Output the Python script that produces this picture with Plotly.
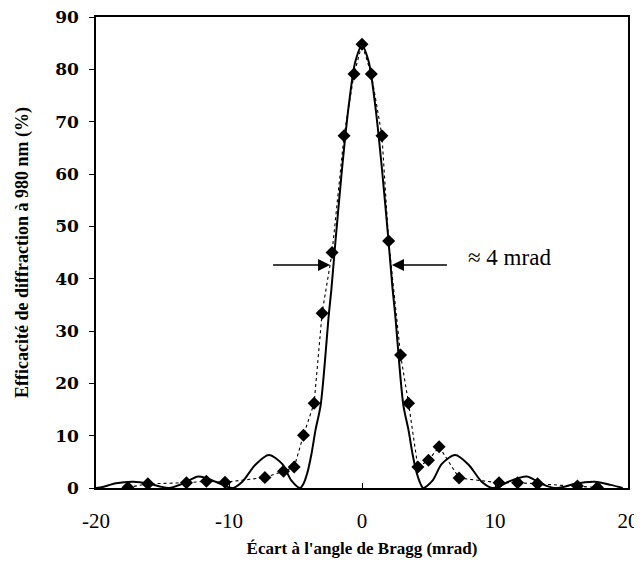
import plotly.graph_objects as go

# =============================================================================
# DATOS
# =============================================================================

# Courbe théorique (trait plein)
x_theorie = [-20, -19.5, -18.5, -17.2, -16, -15.2, -14.5, -13.5, -12.3, -11, -10.2, -9.7,
             -9, -8, -7, -6, -5.3, -4.65, -4.4, -4.1, -3.8, -3.5, -3.1, -2.5, -2.3, -2.0,
             -1.5, -1.0, -0.5, 0,
             0.5, 1.0, 1.5, 2.0, 2.3, 2.5, 3.1, 3.5, 3.8, 4.1, 4.4, 4.6,
             5.3, 6, 7, 8, 9, 9.8, 10.3, 11, 12.4, 13.5, 14.5, 15.3, 16, 17.5, 18.7, 19.6]
y_theorie = [0, 0.2, 0.9, 1.2, 0.8, 0.3, 0, 0.8, 2.2, 1.2, 0.3, 0,
             1.2, 4.5, 6.3, 4.6, 1.4, 0, 0.8, 3, 6.5, 11, 16, 33, 38, 47,
             61, 73, 81.5, 84.5,
             81.5, 73, 61, 47, 38, 33, 16, 11, 6.5, 3, 0.8, 0,
             1.4, 4.6, 6.3, 4.5, 1.2, 0, 0.3, 1.2, 2.2, 0.8, 0, 0.3, 0.8, 1.2, 0.6, 0]

# Mesures (losanges + pointillés)
x_mesure = [-17.6, -16.1, -13.2, -11.7, -10.3, -7.3, -5.9, -5.1, -4.4, -3.6, -3.0, -2.25,
            -1.35, -0.6, 0, 0.7, 1.5, 2.0, 2.9, 3.5, 4.2, 5.0, 5.8, 7.3,
            10.3, 11.7, 13.2, 16.2, 17.7]
y_mesure = [0.1, 0.8, 1.0, 1.3, 1.1, 2.0, 3.2, 4.0, 10.1, 16.2, 33.4, 45,
            67.3, 79.1, 84.8, 79.1, 67.3, 47.2, 25.4, 16.2, 4.0, 5.3, 7.9, 1.9,
            1.0, 1.0, 0.8, 0.4, 0.1]

# Graduations
x_ticks = [-20, -10, 0, 10, 20]
x_ticklabels = ["-20", "-10", "0", "10", "20"]
y_ticks = [0, 10, 20, 30, 40, 50, 60, 70, 80, 90]

# Flèches de largeur à mi-hauteur
fleche_y = 42.6
fleche_gauche = [-6.8, -2.4]
fleche_droite = [6.5, 2.25]
texte_largeur = "≈ 4 mrad"

# =============================================================================
# FIGURE
# =============================================================================

fig = go.Figure()

fig.add_trace(go.Scatter(x=x_theorie, y=y_theorie, mode="lines",
                         line=dict(color="black", width=2, shape="spline", smoothing=0.8),
                         showlegend=False))

fig.add_trace(go.Scatter(x=x_mesure, y=y_mesure, mode="lines+markers",
                         line=dict(color="black", width=1.1, dash="3px,3px"),
                         marker=dict(symbol="diamond", size=10, color="black"),
                         showlegend=False))

for queue, pointe in [fleche_gauche, fleche_droite]:
    fig.add_annotation(x=pointe, y=fleche_y, ax=queue, ay=fleche_y,
                       xref="x", yref="y", axref="x", ayref="y",
                       text="", showarrow=True, arrowhead=2, arrowsize=1.6,
                       arrowwidth=1.5, arrowcolor="black")

fig.add_annotation(x=7.8, y=fleche_y + 1.5, text=texte_largeur, showarrow=False,
                   xanchor="left", font=dict(family="Liberation Serif", size=23, color="black"))

# la page ajoute ~8 px de marge autour du graphique
fig.update_layout(
    width=642, height=577,
    margin=dict(l=88, r=22, t=9, b=97),
    plot_bgcolor="white", paper_bgcolor="white",
    font=dict(family="Liberation Serif", color="black"),
)

fig.update_xaxes(range=[-20, 20], tickvals=x_ticks, ticktext=x_ticklabels, automargin=False,
                 showgrid=False, zeroline=False,
                 showline=True, linecolor="black", linewidth=1.5, mirror=True,
                 ticks="inside", ticklen=5, tickcolor="black", ticklabelstandoff=13,
                 ticklabeloverflow="allow",
                 tickfont=dict(family="Liberation Serif", size=21),
                 title=dict(text="<b>Écart à l'angle de Bragg (mrad)</b>",
                            font=dict(family="Liberation Serif", size=17), standoff=10))

fig.update_yaxes(range=[0, 90], tickvals=y_ticks, automargin=False,
                 showgrid=False, zeroline=False,
                 showline=True, linecolor="black", linewidth=1.5, mirror=True,
                 ticks="outside", ticklen=5, tickcolor="black", ticklabelstandoff=7,
                 ticklabeloverflow="allow",
                 tickfont=dict(family="DejaVu Serif", size=17, weight="bold"),
                 title=dict(text="<b>Efficacité de diffraction à 980 nm (%)</b>",
                            font=dict(family="Liberation Serif", size=18), standoff=22))

fig.write_html("out.html")
